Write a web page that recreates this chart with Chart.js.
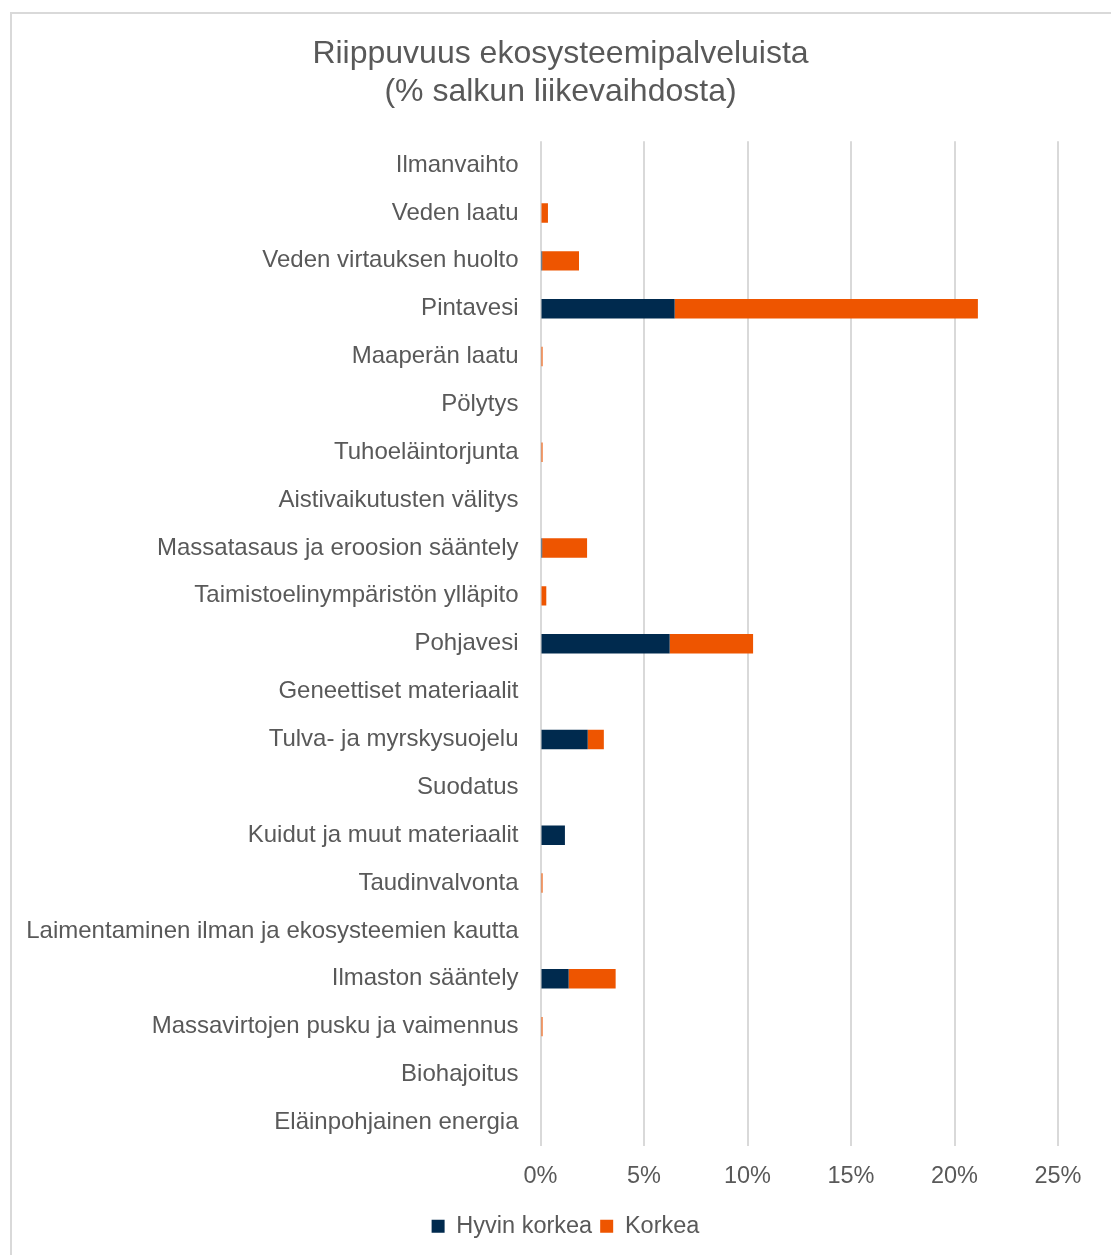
<!DOCTYPE html>
<html><head><meta charset="utf-8">
<script src="https://cdn.jsdelivr.net/npm/chart.js@4/dist/chart.umd.min.js"></script>
<style>
html,body{margin:0;padding:0;background:#fff;overflow:hidden;}
#frame{position:absolute;left:10px;top:12px;width:1101px;height:1243px;border-top:2px solid #d9d9d9;border-left:2px solid #d9d9d9;box-sizing:border-box;}
#wrap{position:absolute;left:10px;top:12px;width:1101px;height:1243px;}
</style></head>
<body>
<div id="frame"></div>
<div id="wrap"><canvas id="c"></canvas></div>
<script>
const categories = [
  "Ilmanvaihto","Veden laatu","Veden virtauksen huolto","Pintavesi","Maaperän laatu","Pölytys",
  "Tuhoeläintorjunta","Aistivaikutusten välitys","Massatasaus ja eroosion sääntely",
  "Taimistoelinympäristön ylläpito","Pohjavesi","Geneettiset materiaalit","Tulva- ja myrskysuojelu",
  "Suodatus","Kuidut ja muut materiaalit","Taudinvalvonta","Laimentaminen ilman ja ekosysteemien kautta",
  "Ilmaston sääntely","Massavirtojen pusku ja vaimennus","Biohajoitus","Eläinpohjainen energia"
];
const hyvinKorkea = [0,0,0.08,6.48,0,0,0,0,0.08,0,6.24,0,2.28,0,1.18,0,0,1.36,0,0,0];
const korkea      = [0,0.36,1.78,14.65,0.1,0,0.1,0,2.17,0.28,4.03,0,0.78,0,0,0.1,0,2.27,0.1,0,0];
const xTicks = [0,5,10,15,20,25];
const seriesNames = ["Hyvin korkea","Korkea"];
const titleLines = ["Riippuvuus ekosysteemipalveluista","(% salkun liikevaihdosta)"];

const FONT = "'Liberation Sans', Arial, sans-serif";
const GREY = "#595959";

// centre title and legend over the whole frame rather than the padded layout box
const recentre = {
  id: 'recentre',
  afterLayout(chart) {
    if (chart.titleBlock) { chart.titleBlock.left += 20; chart.titleBlock.right += 20; }
    if (chart.legend) { chart.legend.left += 25; chart.legend.right += 25; }
  }
};

new Chart(document.getElementById('c'), {
  type: 'bar',
  data: {
    labels: categories,
    datasets: [
      {label: seriesNames[0], data: hyvinKorkea, backgroundColor: '#002A4E', barPercentage: 0.405, categoryPercentage: 1.0},
      {label: seriesNames[1], data: korkea, backgroundColor: '#EE5500', barPercentage: 0.405, categoryPercentage: 1.0}
    ]
  },
  options: {
    indexAxis: 'y',
    responsive: true,
    maintainAspectRatio: false,
    animation: false,
    layout: {padding: {left: 13, right: 53, top: 0, bottom: 7}},
    scales: {
      x: {
        stacked: true, min: 0, max: 25,
        afterBuildTicks: s => { s.ticks = xTicks.map(v => ({value: v})); },
        grid: {color: '#d9d9d9', lineWidth: 2, drawTicks: false},
        border: {display: false},
        ticks: {color: GREY, font: {family: FONT, size: 23.5}, padding: 16, callback: v => v + '%'}
      },
      y: {
        stacked: true,
        grid: {display: false},
        border: {display: false},
        ticks: {color: GREY, font: {family: FONT, size: 24}, padding: 14, autoSkip: false}
      }
    },
    plugins: {
      title: {display: true, text: titleLines, color: GREY, font: {family: FONT, size: 32, weight: 'normal', lineHeight: 1.19}, padding: {top: 23, bottom: 30}},
      legend: {position: 'bottom', labels: {color: GREY, font: {family: FONT, size: 23.5}, boxWidth: 13, boxHeight: 13, padding: 8}},
      tooltip: {enabled: false}
    }
  },
  plugins: [recentre]
});
</script>
</body></html>
